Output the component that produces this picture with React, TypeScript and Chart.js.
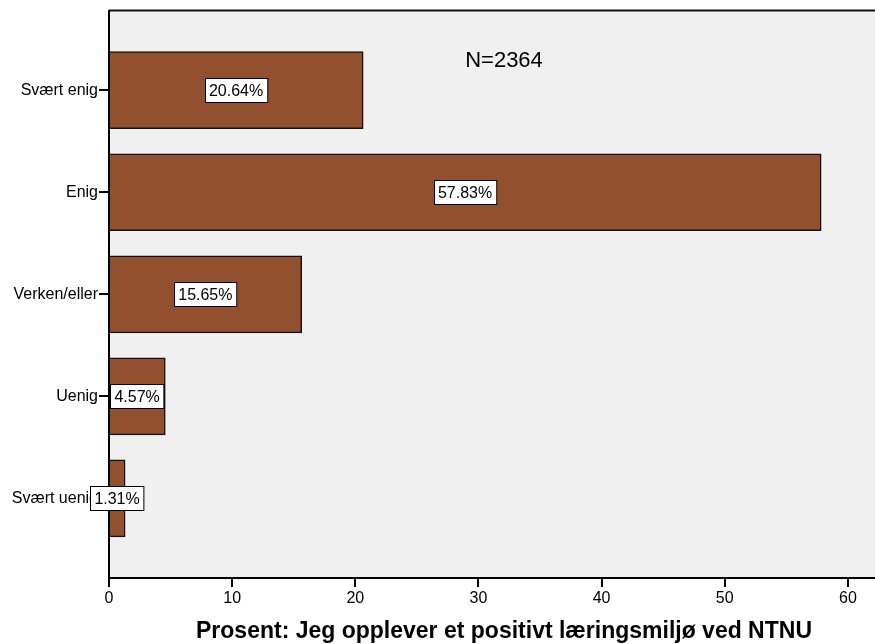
import React, { useEffect, useRef } from "react";
import { Chart, registerables } from "chart.js";

Chart.register(...registerables);

const categories = ["Svært enig", "Enig", "Verken/eller", "Uenig", "Svært uenig"];
const percents = [20.64, 57.83, 15.65, 4.57, 1.31];
const xTicks = [0, 10, 20, 30, 40, 50, 60];
const axisTitle = "Prosent: Jeg opplever et positivt læringsmiljø ved NTNU";
const nLabel = "N=2364";

const FONT = "'Liberation Sans', Arial, sans-serif";

export default function App() {
  const ref = useRef<HTMLCanvasElement | null>(null);
  useEffect(() => {
    document.body.style.margin = "0";
    const canvas = ref.current!;
    const bgPlugin = {
      id: "bgPlugin",
      beforeDraw(chart: any) {
        const { ctx, chartArea } = chart;
        ctx.save();
        ctx.fillStyle = "#F0F0F0";
        ctx.fillRect(chartArea.left, chartArea.top, chartArea.right - chartArea.left, chartArea.bottom - chartArea.top);
        ctx.strokeStyle = "#111";
        ctx.lineWidth = 2;
        ctx.beginPath();
        ctx.moveTo(chartArea.left, chartArea.top);
        ctx.lineTo(chartArea.right, chartArea.top);
        ctx.stroke();
        ctx.restore();
      },
      afterDatasetsDraw(chart: any) {
        const { ctx } = chart;
        const xs = chart.scales.x;
        const meta = chart.getDatasetMeta(0);
        ctx.save();
        ctx.font = "16px " + FONT;
        ctx.textAlign = "center";
        ctx.textBaseline = "middle";
        meta.data.forEach((bar: any, i: number) => {
          const v = percents[i];
          const cx = xs.getPixelForValue(v / 2);
          const cy = bar.y;
          const text = v.toFixed(2) + "%";
          const w = ctx.measureText(text).width + 8;
          const h = 24;
          const x0 = Math.round(cx - w / 2) + 0.5;
          const y0 = Math.round(cy - h / 2) + 0.5;
          ctx.fillStyle = "#fff";
          ctx.fillRect(x0, y0, w, h);
          ctx.strokeStyle = "#000";
          ctx.lineWidth = 1;
          ctx.strokeRect(x0, y0, w, h);
          ctx.fillStyle = "#000";
          ctx.fillText(text, cx, cy + 1);
        });
        ctx.font = "22px " + FONT;
        ctx.fillText(nLabel, 504, 61);
        ctx.font = "bold 23px " + FONT;
        ctx.fillText(axisTitle, 504, 632);
        ctx.restore();
      },
    };

    const chart = new Chart(canvas, {
      type: "bar",
      data: {
        datasets: [
          {
            data: percents.map((v, i) => ({ x: v, y: i })) as any,
            backgroundColor: "#93502F",
            borderColor: "#111",
            borderWidth: 1.5,
            barThickness: 77,
          },
        ],
      },
      options: {
        indexAxis: "y",
        responsive: false,
        animation: false,
        layout: { padding: { top: 9, right: 0, left: 0, bottom: 0 } },
        plugins: { legend: { display: false }, tooltip: { enabled: false }, title: { display: false } },
        scales: {
          x: {
            type: "linear",
            min: 0,
            max: 62.2,
            offset: false,
            afterBuildTicks: (s: any) => {
              s.ticks = xTicks.map((v) => ({ value: v }));
            },
            afterFit: (s: any) => {
              s.height = 66;
            },
            ticks: { color: "#000", font: { size: 16, family: FONT }, padding: 2, maxRotation: 0 },
            grid: { display: true, offset: false, drawOnChartArea: false, drawTicks: true, tickLength: 9, color: "#000", lineWidth: 2 },
            border: { display: true, color: "#000", width: 2 },
          },
          y: {
            type: "linear",
            reverse: true,
            min: -0.78,
            max: 4.78,
            offset: false,
            afterBuildTicks: (s: any) => {
              s.ticks = categories.map((_, i) => ({ value: i }));
            },
            afterFit: (s: any) => {
              s.width = 109;
            },
            ticks: {
              color: "#000",
              font: { size: 16, family: FONT },
              padding: 1,
              callback: (v: any) => categories[Math.round(Number(v))] ?? "",
            },
            grid: { display: true, offset: false, drawOnChartArea: false, drawTicks: true, tickLength: 10, color: "#000", lineWidth: 2 },
            border: { display: true, color: "#000", width: 2 },
          },
        },
      },
      plugins: [bgPlugin],
    } as any);
    return () => chart.destroy();
  }, []);
  return (
    <div style={{ width: 875, height: 644, background: "#fff" }}>
      <canvas ref={ref} width={875} height={644} style={{ display: "block" }} />
    </div>
  );
}
